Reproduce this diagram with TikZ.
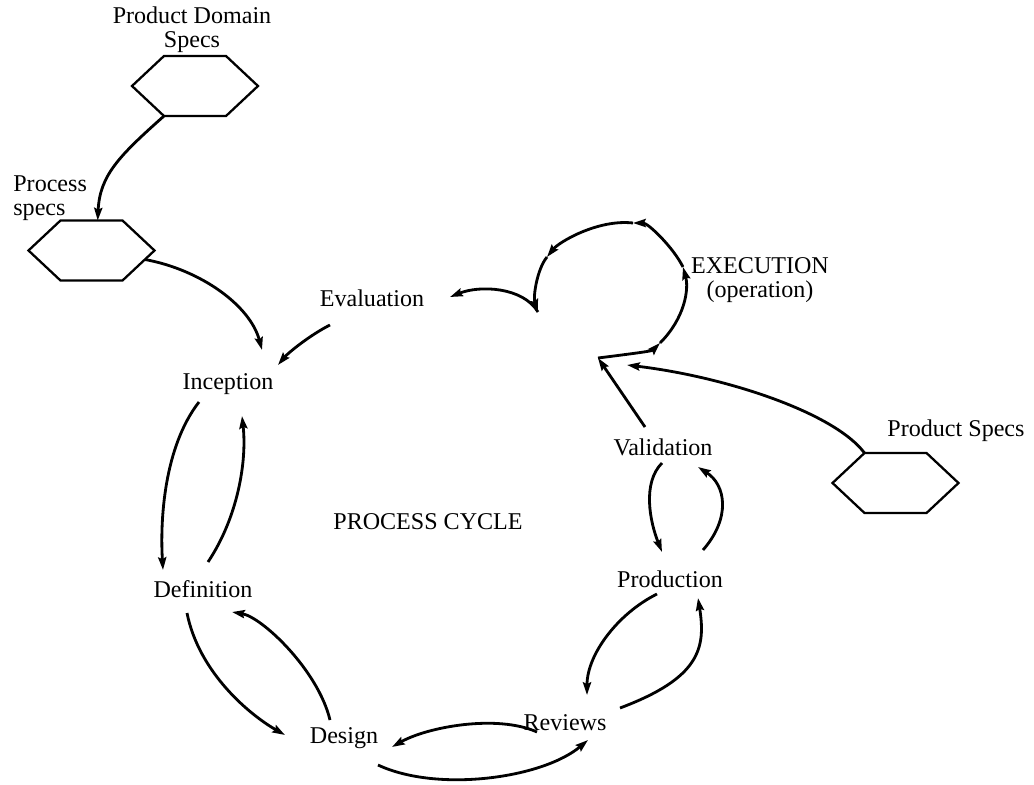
\documentclass[tikz,border=0pt]{standalone}
\usepackage{fontspec}
\setmainfont{Liberation Serif}
\usepackage{tikz}
\usetikzlibrary{arrows.meta,calc}

\begin{document}
\begin{tikzpicture}[x = 0.02cm, y = -0.02cm,
		font = \fontsize{13.7}{13.5}\selectfont,
		txt/.style = {inner sep = 0pt, align = center},
		flow/.style = {-{Stealth[length = 7.2pt, width = 4.6pt, inset = 1pt]}, line width = 1.6pt},
		pics/hexspec/.style = {code = {
			\draw[line width = 1.3pt] (-63,0) coordinate (-w) -- (-31,-30) coordinate (-nw) -- (31,-30) coordinate (-ne)
				-- (63,0) coordinate (-e) -- (31,30) coordinate (-se) -- (-31,30) coordinate (-sw) -- cycle;
		}}]
		\useasboundingbox (0,0) rectangle (1034,784);
		\node[txt] (pdst) at (192,30) {Product Domain\\Specs};
		\pic (h1) at (195,86) {hexspec};
		\node[txt, align = left, anchor = west] (pst) at (13,198) {Process\\specs};
		\pic (h2) at (91.5,250.5) {hexspec};
		\node[txt] (pspt) at (956,431) {Product Specs};
		\pic (h3) at (895.5,483) {hexspec};
		\node[txt] (eval) at (372,298) {Evaluation};
		\node[txt] (incep) at (228,384) {Inception};
		\node[txt] (defin) at (203,589) {Definition};
		\node[txt] (design) at (344,738) {Design};
		\node[txt] (reviews) at (565,723) {Reviews};
		\node[txt] (produc) at (670,579) {Production};
		\node[txt] (valid) at (663,447) {Validation};
		\node[txt] (cycle) at (428,522) {PROCESS CYCLE};
		\node[txt] (exec) at (760,280) {EXECUTION\\(operation)};
		\coordinate (x0) at (598,358);
		\coordinate (x1) at (660,343);
		\coordinate (x2) at (683,267);
		\coordinate (x3) at (633,223);
		\coordinate (x4) at (547,257);
		\coordinate (x5) at (538,312);
		\draw[flow] (h1-sw) .. controls +(-45,40) and +(2,-45) .. ($(h2-nw)!.6!(h2-ne)$);
		\draw[flow] ($(h2-e)!.3!(h2-se)$) .. controls +(55,10) and +(-12,-45) .. ($(incep)+(34,-34)$);
		\draw[flow] ($(eval)+(-42,27)$) .. controls +(-20,10) and +(10,-12) .. ($(incep)+(50,-19)$);
		\draw[flow] ($(incep)+(-29,18)$) .. controls +(-35,45) and +(-3,-50) .. ($(defin)+(-40,-19)$);
		\draw[flow] ($(defin)+(5,-27)$) .. controls +(30,-45) and +(5,45) .. ($(incep)+(14,32)$);
		\draw[flow] ($(defin)+(-16,24)$) .. controls +(12,60) and +(-35,-20) .. ($(design)+(-59,-3)$);
		\draw[flow] ($(design)+(-14,-18)$) .. controls +(-12,-50) and +(30,5) .. ($(defin)+(29,23)$);
		\draw[flow] ($(reviews)+(-28,9)$) .. controls +(-40,-18) and +(35,-20) .. ($(design)+(48,9)$);
		\draw[flow] ($(design)+(34,27)$) .. controls +(60,28) and +(-45,38) .. ($(reviews)+(23,17)$);
		\draw[flow] ($(produc)+(-13,15)$) .. controls +(-40,20) and +(0,-40) .. ($(reviews)+(22,-28)$);
		\draw[flow] ($(reviews)+(55,-15)$) .. controls +(80,-30) and +(8,50) .. ($(produc)+(28,19)$);
		\draw[flow] ($(valid)+(-1,16)$) .. controls +(-20,20) and +(-12,-30) .. ($(produc)+(-8,-27)$);
		\draw[flow] ($(produc)+(33,-29)$) .. controls +(28,-32) and +(28,18) .. ($(valid)+(35,20)$);
		\draw[flow] ($(valid)+(-18,-20)$) -- (x0);
		\draw[flow] (h3-nw) .. controls +(-30,-40) and +(100,12) .. ($(x0)+(29,7)$);
		\draw[flow] (x0) .. controls +(40,-5) and +(-8,8) .. (x1);
		\draw[flow] (x1) .. controls +(25,-25) and +(6,22) .. (x2);
		\draw[flow] (x2) .. controls +(-10,-20) and +(15,0) .. (x3);
		\draw[flow] (x3) .. controls +(-35,-4) and +(12,-15) .. (x4);
		\draw[flow] (x4) .. controls +(-10,12) and +(-5,-15) .. (x5);
		\draw[flow] (x5) .. controls +(-15,-25) and +(30,-12) .. ($(eval)+(78,-1)$);
	\end{tikzpicture}
\end{document}
